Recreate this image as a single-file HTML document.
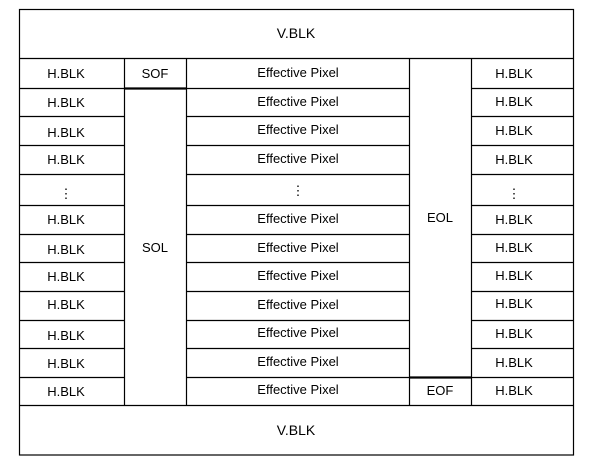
<!DOCTYPE html>
<html><head><style>html,body{margin:0;padding:0;background:#fff;}svg{display:block}</style></head>
<body>
<svg width="589" height="469" xmlns="http://www.w3.org/2000/svg" font-family="Liberation Sans, Arial, sans-serif" font-size="13" fill="#000">
<rect x="0" y="0" width="589" height="469" fill="#fff"/>
<g stroke="#000" stroke-width="1.2" fill="none">
<rect x="19.5" y="9.5" width="554" height="445.5"/>
<line x1="19.5" y1="58.5" x2="573.5" y2="58.5"/>
<line x1="19.5" y1="405.5" x2="573.5" y2="405.5"/>
<line x1="124.5" y1="58.5" x2="124.5" y2="405.5"/>
<line x1="186.5" y1="58.5" x2="186.5" y2="405.5"/>
<line x1="409.5" y1="58.5" x2="409.5" y2="405.5"/>
<line x1="471.5" y1="58.5" x2="471.5" y2="405.5"/>
<!-- row lines -->
<g>
<line x1="19.5" y1="88.5" x2="124.5" y2="88.5"/><line x1="186.5" y1="88.5" x2="409.5" y2="88.5"/><line x1="471.5" y1="88.5" x2="573.5" y2="88.5"/>
<line x1="19.5" y1="116.5" x2="124.5" y2="116.5"/><line x1="186.5" y1="116.5" x2="409.5" y2="116.5"/><line x1="471.5" y1="116.5" x2="573.5" y2="116.5"/>
<line x1="19.5" y1="145.5" x2="124.5" y2="145.5"/><line x1="186.5" y1="145.5" x2="409.5" y2="145.5"/><line x1="471.5" y1="145.5" x2="573.5" y2="145.5"/>
<line x1="19.5" y1="174.5" x2="124.5" y2="174.5"/><line x1="186.5" y1="174.5" x2="409.5" y2="174.5"/><line x1="471.5" y1="174.5" x2="573.5" y2="174.5"/>
<line x1="19.5" y1="205.5" x2="124.5" y2="205.5"/><line x1="186.5" y1="205.5" x2="409.5" y2="205.5"/><line x1="471.5" y1="205.5" x2="573.5" y2="205.5"/>
<line x1="19.5" y1="234.5" x2="124.5" y2="234.5"/><line x1="186.5" y1="234.5" x2="409.5" y2="234.5"/><line x1="471.5" y1="234.5" x2="573.5" y2="234.5"/>
<line x1="19.5" y1="262.5" x2="124.5" y2="262.5"/><line x1="186.5" y1="262.5" x2="409.5" y2="262.5"/><line x1="471.5" y1="262.5" x2="573.5" y2="262.5"/>
<line x1="19.5" y1="291.5" x2="124.5" y2="291.5"/><line x1="186.5" y1="291.5" x2="409.5" y2="291.5"/><line x1="471.5" y1="291.5" x2="573.5" y2="291.5"/>
<line x1="19.5" y1="320.5" x2="124.5" y2="320.5"/><line x1="186.5" y1="320.5" x2="409.5" y2="320.5"/><line x1="471.5" y1="320.5" x2="573.5" y2="320.5"/>
<line x1="19.5" y1="348.5" x2="124.5" y2="348.5"/><line x1="186.5" y1="348.5" x2="409.5" y2="348.5"/><line x1="471.5" y1="348.5" x2="573.5" y2="348.5"/>
<line x1="19.5" y1="377.5" x2="124.5" y2="377.5"/><line x1="186.5" y1="377.5" x2="409.5" y2="377.5"/><line x1="471.5" y1="377.5" x2="573.5" y2="377.5"/>
</g>
</g>
<line x1="124.5" y1="88.5" x2="186.5" y2="88.5" stroke="#000" stroke-width="2.2"/>
<line x1="409.5" y1="377.5" x2="471.5" y2="377.5" stroke="#000" stroke-width="2.2"/>
<g text-anchor="middle">
<text x="296" y="38" font-size="14">V.BLK</text>
<text x="296" y="435" font-size="14">V.BLK</text>
<text x="155" y="78">SOF</text>
<text x="155" y="252">SOL</text>
<text x="440" y="222">EOL</text>
<text x="440" y="395">EOF</text>
</g>
<g text-anchor="middle">
<text x="66" y="78">H.BLK</text><text x="66" y="107">H.BLK</text><text x="66" y="137">H.BLK</text><text x="66" y="164">H.BLK</text>
<text x="66" y="198">⋮</text>
<text x="66" y="224">H.BLK</text><text x="66" y="254">H.BLK</text><text x="66" y="281">H.BLK</text><text x="66" y="309">H.BLK</text><text x="66" y="340">H.BLK</text><text x="66" y="368">H.BLK</text><text x="66" y="396">H.BLK</text>
<text x="298" y="77">Effective Pixel</text><text x="298" y="106">Effective Pixel</text><text x="298" y="134">Effective Pixel</text><text x="298" y="163">Effective Pixel</text>
<text x="298" y="195">⋮</text>
<text x="298" y="223">Effective Pixel</text><text x="298" y="252">Effective Pixel</text><text x="298" y="280">Effective Pixel</text><text x="298" y="309">Effective Pixel</text><text x="298" y="337">Effective Pixel</text><text x="298" y="366">Effective Pixel</text><text x="298" y="394">Effective Pixel</text>
<text x="514" y="78">H.BLK</text><text x="514" y="106">H.BLK</text><text x="514" y="135">H.BLK</text><text x="514" y="164">H.BLK</text>
<text x="514" y="198">⋮</text>
<text x="514" y="224">H.BLK</text><text x="514" y="252">H.BLK</text><text x="514" y="280">H.BLK</text><text x="514" y="308">H.BLK</text><text x="514" y="338">H.BLK</text><text x="514" y="367">H.BLK</text><text x="514" y="395">H.BLK</text>
</g>
</svg>
</body></html>
